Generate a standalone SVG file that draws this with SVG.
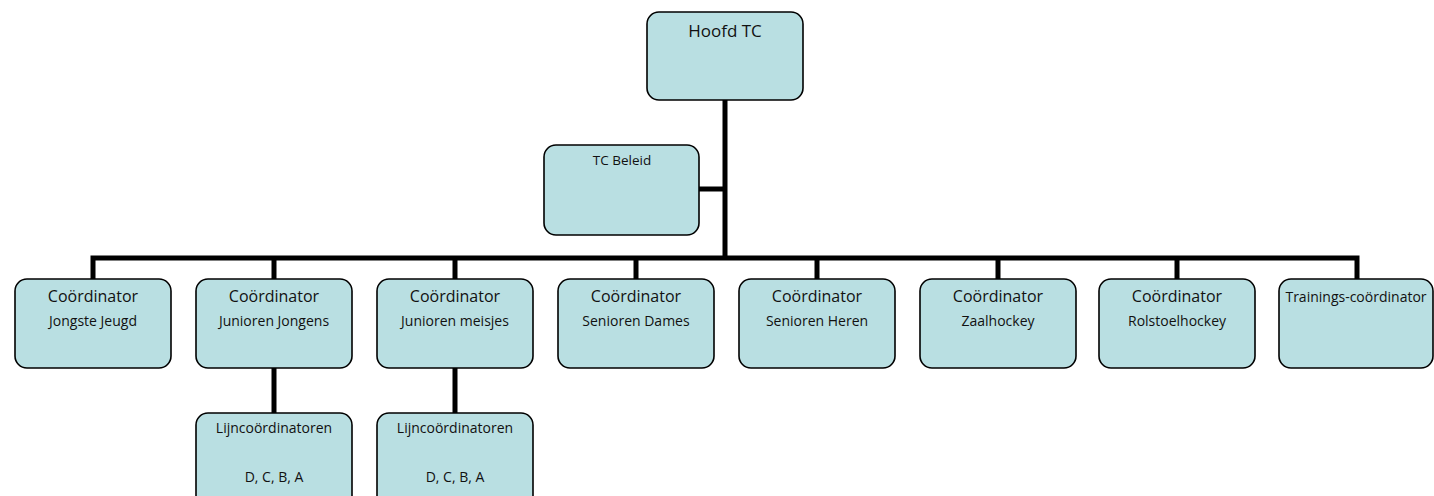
<svg xmlns="http://www.w3.org/2000/svg" width="1434" height="496" viewBox="0 0 1434 496">
<style>
.box{fill:#B9DFE2;stroke:#000;stroke-width:1.6}
.con{stroke:#000;stroke-width:5;fill:none;stroke-linecap:butt;stroke-linejoin:miter}
text{font-family:"Open Sans","Liberation Sans",sans-serif;fill:#111;text-anchor:middle}
.t1{font-size:16px}
.t2{font-size:14px}
</style>
<rect width="1434" height="496" fill="#fff"/>
<g id="connectors">
<path class="con" d="M725,100 V258"/>
<path class="con" d="M699,189 H725"/>
<path class="con" d="M93,279 V258 H1357 V279"/>
<path class="con" d="M274,258 V279 M455,258 V279 M636,258 V279 M817,258 V279 M998,258 V279 M1177,258 V279"/>
<path class="con" d="M274,368 V413 M455,368 V413"/>
</g>
<g id="hoofd-tc"><rect class="box" x="647" y="12" width="156" height="88" rx="12"/><text x="725" y="37" style="font-size:17px">Hoofd TC</text></g>
<g id="tc-beleid"><rect class="box" x="544" y="145" width="155" height="90" rx="12"/><text x="622" y="165" style="font-size:13.5px">TC Beleid</text></g>
<g id="jongste-jeugd"><rect class="box" x="15" y="279" width="156" height="89" rx="12"/><text class="t1" x="93" y="302">Coördinator</text><text class="t2" x="93" y="326">Jongste Jeugd</text></g>
<g id="junioren-jongens"><rect class="box" x="196" y="279" width="156" height="89" rx="12"/><text class="t1" x="274" y="302">Coördinator</text><text class="t2" x="274" y="326">Junioren Jongens</text></g>
<g id="junioren-meisjes"><rect class="box" x="377" y="279" width="156" height="89" rx="12"/><text class="t1" x="455" y="302">Coördinator</text><text class="t2" x="455" y="326">Junioren meisjes</text></g>
<g id="senioren-dames"><rect class="box" x="558" y="279" width="156" height="89" rx="12"/><text class="t1" x="636" y="302">Coördinator</text><text class="t2" x="636" y="326">Senioren Dames</text></g>
<g id="senioren-heren"><rect class="box" x="739" y="279" width="156" height="89" rx="12"/><text class="t1" x="817" y="302">Coördinator</text><text class="t2" x="817" y="326">Senioren Heren</text></g>
<g id="zaalhockey"><rect class="box" x="920" y="279" width="156" height="89" rx="12"/><text class="t1" x="998" y="302">Coördinator</text><text class="t2" x="998" y="326">Zaalhockey</text></g>
<g id="rolstoelhockey"><rect class="box" x="1099" y="279" width="156" height="89" rx="12"/><text class="t1" x="1177" y="302">Coördinator</text><text class="t2" x="1177" y="326">Rolstoelhockey</text></g>
<g id="trainings"><rect class="box" x="1279" y="279" width="154" height="89" rx="12"/><text class="t2" x="1356" y="302">Trainings-coördinator</text></g>
<g id="lijn-jongens"><rect class="box" x="196" y="413" width="156" height="100" rx="12"/><text class="t2" x="274" y="433">Lijncoördinatoren</text><text class="t2" x="274" y="482">D, C, B, A</text></g>
<g id="lijn-meisjes"><rect class="box" x="377" y="413" width="156" height="100" rx="12"/><text class="t2" x="455" y="433">Lijncoördinatoren</text><text class="t2" x="455" y="482">D, C, B, A</text></g>
</svg>
